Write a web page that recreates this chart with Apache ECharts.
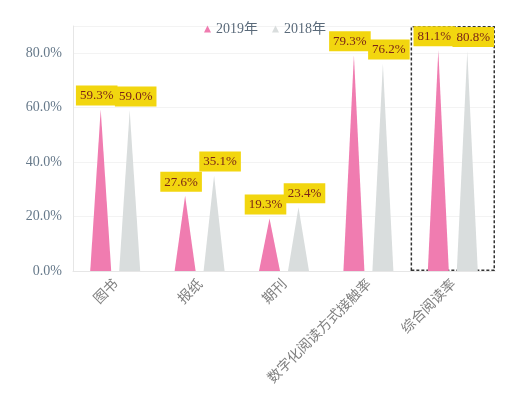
<!DOCTYPE html>
<html><head><meta charset="utf-8">
<script src="https://cdn.jsdelivr.net/npm/echarts@6/dist/echarts.min.js"></script>
<style>html,body{margin:0;padding:0;background:#fff}#c{width:530px;height:394px}</style>
</head><body><div id="c"></div>
<script>
const categories = ['图书', '报纸', '期刊', '数字化阅读方式接触率', '综合阅读率'];
const values2019 = [59.3, 27.6, 19.3, 79.3, 81.1];
const values2018 = [59.0, 35.1, 23.4, 76.2, 80.8];
const seriesNames = ['2019年', '2018年'];
const yTicks = [0, 20, 40, 60, 80];
const yMax = 90;
const highlightCategory = '综合阅读率';

const serif = '"Liberation Serif", "DejaVu Serif", "Noto Sans CJK SC", serif';
const chart = echarts.init(document.getElementById('c'));
const labelStyle = (dx) => ({
  show: true, position: 'top', distance: 4, offset: [dx, 0],
  formatter: p => p.value.toFixed(1) + '%',
  backgroundColor: '#f2d60f', color: '#7a2418',
  fontFamily: serif, fontSize: 13, padding: [4, 4, 3, 4]
});
chart.setOption({
  animation: false,
  legend: {
    data: seriesNames, top: 17, left: 'center', icon: 'triangle',
    itemWidth: 7, itemHeight: 7, itemGap: 14,
    textStyle: { fontFamily: serif, fontSize: 14, color: '#5a6a7a' }
  },
  grid: { left: 73, right: 35, top: 26, bottom: 123 },
  xAxis: {
    type: 'category', data: categories,
    axisLine: { lineStyle: { color: '#e6e6e6' } },
    axisTick: { show: false },
    axisLabel: { rotate: 45, fontSize: 14, color: '#808080', fontFamily: '"Noto Sans CJK SC", sans-serif', margin: 10 }
  },
  yAxis: {
    type: 'value', min: yTicks[0], max: yMax, interval: yTicks[1] - yTicks[0],
    axisLine: { show: true, lineStyle: { color: '#e6e6e6' } },
    axisTick: { show: false },
    splitLine: { lineStyle: { color: '#f3f3f3' } },
    axisLabel: { showMaxLabel: false, formatter: v => v.toFixed(1) + '%', fontFamily: serif, fontSize: 14, color: '#66798a', margin: 11 }
  },
  series: [
    {
      name: seriesNames[0], type: 'pictorialBar', symbol: 'triangle',
      barWidth: 21, barGap: '38%', data: values2019,
      itemStyle: { color: '#f07cb0' }, label: labelStyle(-4), z: 3
    },
    {
      name: seriesNames[1], type: 'pictorialBar', symbol: 'triangle',
      barWidth: 21, barGap: '38%', data: values2018,
      itemStyle: { color: '#d9dddd' }, label: labelStyle(6), z: 3
    },
    {
      name: 'highlight', type: 'bar', barWidth: '100%', silent: true, z: 1,
      data: categories.map(c => c === highlightCategory ? yMax : '-'),
      itemStyle: { color: 'rgba(0,0,0,0)', borderColor: '#333', borderWidth: 1.5, borderType: [3, 2] }
    }
  ]
});
</script></body></html>
